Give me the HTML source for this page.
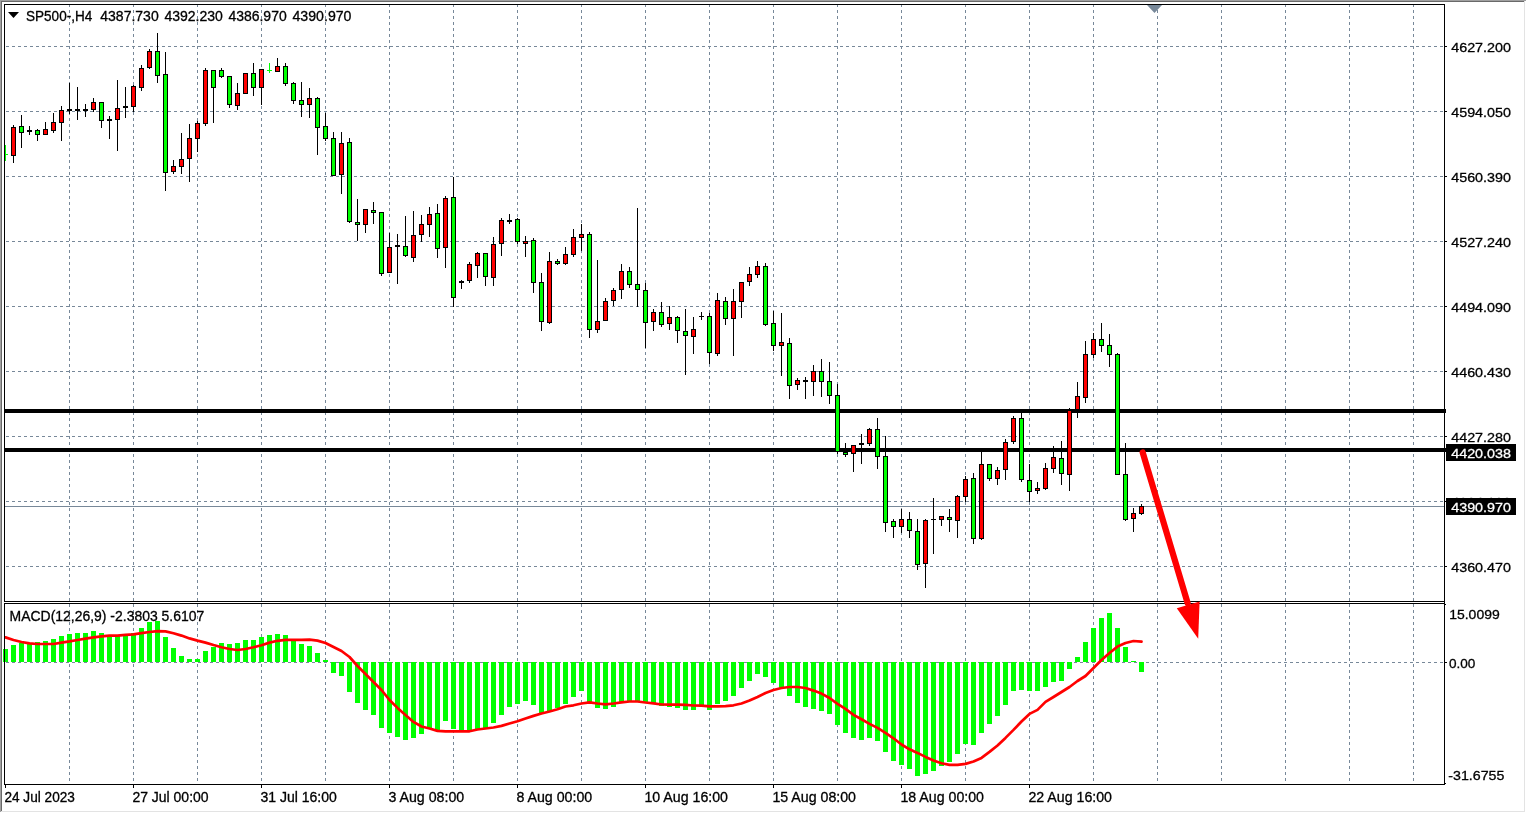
<!DOCTYPE html>
<html><head><meta charset="utf-8"><title>SP500-,H4</title>
<style>
html,body{margin:0;padding:0;background:#fff;overflow:hidden}
svg{display:block}
text{font-family:"Liberation Sans",sans-serif;font-size:14px;fill:#000;stroke:#000;stroke-width:.3px}
.p{font-size:13.6px}
.w{font-size:13.6px;fill:#fff;stroke:#fff}
</style></head><body>
<svg width="1526" height="813" viewBox="0 0 1526 813">
<rect width="1526" height="813" fill="#fff"/>
<g shape-rendering="crispEdges">
<rect x="0" y="0" width="1526" height="1" fill="#a0a0a0"/><rect x="0" y="0" width="1" height="812" fill="#a0a0a0"/>
<rect x="1" y="1" width="1524" height="1" fill="#696969"/><rect x="1" y="1" width="1" height="810" fill="#696969"/>
<rect x="1" y="811" width="1524" height="1" fill="#e3e3e3"/><rect x="1524" y="1" width="1" height="811" fill="#e3e3e3"/>
</g>
<g stroke="#778899" stroke-width="1" stroke-dasharray="3 3" shape-rendering="crispEdges" fill="none">
<line x1="69.5" y1="4" x2="69.5" y2="601"/>
<line x1="69.5" y1="604" x2="69.5" y2="782"/>
<line x1="133.5" y1="4" x2="133.5" y2="601"/>
<line x1="133.5" y1="604" x2="133.5" y2="782"/>
<line x1="197.5" y1="4" x2="197.5" y2="601"/>
<line x1="197.5" y1="604" x2="197.5" y2="782"/>
<line x1="261.5" y1="4" x2="261.5" y2="601"/>
<line x1="261.5" y1="604" x2="261.5" y2="782"/>
<line x1="325.5" y1="4" x2="325.5" y2="601"/>
<line x1="325.5" y1="604" x2="325.5" y2="782"/>
<line x1="389.5" y1="4" x2="389.5" y2="601"/>
<line x1="389.5" y1="604" x2="389.5" y2="782"/>
<line x1="453.5" y1="4" x2="453.5" y2="601"/>
<line x1="453.5" y1="604" x2="453.5" y2="782"/>
<line x1="517.5" y1="4" x2="517.5" y2="601"/>
<line x1="517.5" y1="604" x2="517.5" y2="782"/>
<line x1="581.5" y1="4" x2="581.5" y2="601"/>
<line x1="581.5" y1="604" x2="581.5" y2="782"/>
<line x1="645.5" y1="4" x2="645.5" y2="601"/>
<line x1="645.5" y1="604" x2="645.5" y2="782"/>
<line x1="709.5" y1="4" x2="709.5" y2="601"/>
<line x1="709.5" y1="604" x2="709.5" y2="782"/>
<line x1="773.5" y1="4" x2="773.5" y2="601"/>
<line x1="773.5" y1="604" x2="773.5" y2="782"/>
<line x1="837.5" y1="4" x2="837.5" y2="601"/>
<line x1="837.5" y1="604" x2="837.5" y2="782"/>
<line x1="901.5" y1="4" x2="901.5" y2="601"/>
<line x1="901.5" y1="604" x2="901.5" y2="782"/>
<line x1="965.5" y1="4" x2="965.5" y2="601"/>
<line x1="965.5" y1="604" x2="965.5" y2="782"/>
<line x1="1029.5" y1="4" x2="1029.5" y2="601"/>
<line x1="1029.5" y1="604" x2="1029.5" y2="782"/>
<line x1="1093.5" y1="4" x2="1093.5" y2="601"/>
<line x1="1093.5" y1="604" x2="1093.5" y2="782"/>
<line x1="1157.5" y1="4" x2="1157.5" y2="601"/>
<line x1="1157.5" y1="604" x2="1157.5" y2="782"/>
<line x1="1221.5" y1="4" x2="1221.5" y2="601"/>
<line x1="1221.5" y1="604" x2="1221.5" y2="782"/>
<line x1="1285.5" y1="4" x2="1285.5" y2="601"/>
<line x1="1285.5" y1="604" x2="1285.5" y2="782"/>
<line x1="1349.5" y1="4" x2="1349.5" y2="601"/>
<line x1="1349.5" y1="604" x2="1349.5" y2="782"/>
<line x1="1413.5" y1="4" x2="1413.5" y2="601"/>
<line x1="1413.5" y1="604" x2="1413.5" y2="782"/>
<line x1="6" y1="46.5" x2="1444" y2="46.5"/>
<line x1="6" y1="111.5" x2="1444" y2="111.5"/>
<line x1="6" y1="176.5" x2="1444" y2="176.5"/>
<line x1="6" y1="241.5" x2="1444" y2="241.5"/>
<line x1="6" y1="306.5" x2="1444" y2="306.5"/>
<line x1="6" y1="371.5" x2="1444" y2="371.5"/>
<line x1="6" y1="436.5" x2="1444" y2="436.5"/>
<line x1="6" y1="501.5" x2="1444" y2="501.5"/>
<line x1="6" y1="566.5" x2="1444" y2="566.5"/>
<line x1="6" y1="662.5" x2="1444" y2="662.5"/>
</g>
<g shape-rendering="crispEdges">
<rect x="5" y="409" width="1441" height="4" fill="#000"/>
<rect x="5" y="448" width="1441" height="4" fill="#000"/>
<rect x="5" y="506" width="1439" height="1" fill="#778899"/>
<path d="M1147 5H1162L1154.5 13Z" fill="#778899" shape-rendering="auto"/>
<rect x="5" y="145" width="1" height="16" fill="#0f0"/><rect x="5" y="154" width="3" height="1" fill="#0f0"/>
<rect x="13" y="125" width="1" height="38" fill="#000"/>
<rect x="11" y="127" width="5" height="29" fill="#000"/>
<rect x="12" y="128" width="3" height="27" fill="#f00"/>
<rect x="21" y="115" width="1" height="33" fill="#000"/>
<rect x="19" y="126" width="5" height="7" fill="#000"/>
<rect x="20" y="127" width="3" height="5" fill="#0f0"/>
<rect x="29" y="126" width="1" height="9" fill="#000"/>
<rect x="27" y="130" width="5" height="2" fill="#000"/>
<rect x="37" y="129" width="1" height="12" fill="#000"/>
<rect x="35" y="130" width="5" height="5" fill="#000"/>
<rect x="36" y="131" width="3" height="3" fill="#0f0"/>
<rect x="45" y="122" width="1" height="13" fill="#000"/>
<rect x="43" y="129" width="5" height="6" fill="#000"/>
<rect x="44" y="130" width="3" height="4" fill="#f00"/>
<rect x="53" y="113" width="1" height="20" fill="#000"/>
<rect x="51" y="122" width="5" height="9" fill="#000"/>
<rect x="52" y="123" width="3" height="7" fill="#f00"/>
<rect x="61" y="106" width="1" height="35" fill="#000"/>
<rect x="59" y="110" width="5" height="13" fill="#000"/>
<rect x="60" y="111" width="3" height="11" fill="#f00"/>
<rect x="69" y="83" width="1" height="31" fill="#000"/>
<rect x="67" y="109" width="5" height="2" fill="#000"/>
<rect x="77" y="87" width="1" height="33" fill="#000"/>
<rect x="75" y="109" width="5" height="2" fill="#000"/>
<rect x="85" y="104" width="1" height="13" fill="#000"/>
<rect x="83" y="109" width="5" height="2" fill="#000"/>
<rect x="93" y="98" width="1" height="14" fill="#000"/>
<rect x="91" y="102" width="5" height="8" fill="#000"/>
<rect x="92" y="103" width="3" height="6" fill="#f00"/>
<rect x="101" y="102" width="1" height="26" fill="#000"/>
<rect x="99" y="102" width="5" height="19" fill="#000"/>
<rect x="100" y="103" width="3" height="17" fill="#0f0"/>
<rect x="109" y="116" width="1" height="23" fill="#000"/>
<rect x="107" y="119" width="5" height="2" fill="#000"/>
<rect x="117" y="80" width="1" height="71" fill="#000"/>
<rect x="115" y="108" width="5" height="12" fill="#000"/>
<rect x="116" y="109" width="3" height="10" fill="#f00"/>
<rect x="125" y="87" width="1" height="31" fill="#000"/>
<rect x="123" y="106" width="5" height="2" fill="#000"/>
<rect x="133" y="85" width="1" height="27" fill="#000"/>
<rect x="131" y="86" width="5" height="21" fill="#000"/>
<rect x="132" y="87" width="3" height="19" fill="#f00"/>
<rect x="141" y="65" width="1" height="26" fill="#000"/>
<rect x="139" y="68" width="5" height="20" fill="#000"/>
<rect x="140" y="69" width="3" height="18" fill="#f00"/>
<rect x="149" y="49" width="1" height="20" fill="#000"/>
<rect x="147" y="51" width="5" height="17" fill="#000"/>
<rect x="148" y="52" width="3" height="15" fill="#f00"/>
<rect x="157" y="33" width="1" height="50" fill="#000"/>
<rect x="155" y="51" width="5" height="25" fill="#000"/>
<rect x="156" y="52" width="3" height="23" fill="#0f0"/>
<rect x="165" y="52" width="1" height="139" fill="#000"/>
<rect x="163" y="74" width="5" height="99" fill="#000"/>
<rect x="164" y="75" width="3" height="97" fill="#0f0"/>
<rect x="173" y="160" width="1" height="14" fill="#000"/>
<rect x="171" y="166" width="5" height="6" fill="#000"/>
<rect x="172" y="167" width="3" height="4" fill="#f00"/>
<rect x="181" y="133" width="1" height="41" fill="#000"/>
<rect x="179" y="159" width="5" height="8" fill="#000"/>
<rect x="180" y="160" width="3" height="6" fill="#f00"/>
<rect x="189" y="124" width="1" height="58" fill="#000"/>
<rect x="187" y="138" width="5" height="21" fill="#000"/>
<rect x="188" y="139" width="3" height="19" fill="#f00"/>
<rect x="197" y="121" width="1" height="31" fill="#000"/>
<rect x="195" y="123" width="5" height="16" fill="#000"/>
<rect x="196" y="124" width="3" height="14" fill="#f00"/>
<rect x="205" y="68" width="1" height="58" fill="#000"/>
<rect x="203" y="70" width="5" height="54" fill="#000"/>
<rect x="204" y="71" width="3" height="52" fill="#f00"/>
<rect x="213" y="70" width="1" height="53" fill="#000"/>
<rect x="211" y="70" width="5" height="18" fill="#000"/>
<rect x="212" y="71" width="3" height="16" fill="#0f0"/>
<rect x="221" y="68" width="1" height="10" fill="#000"/>
<rect x="219" y="70" width="5" height="7" fill="#000"/>
<rect x="220" y="71" width="3" height="5" fill="#0f0"/>
<rect x="229" y="76" width="1" height="32" fill="#000"/>
<rect x="227" y="76" width="5" height="29" fill="#000"/>
<rect x="228" y="77" width="3" height="27" fill="#0f0"/>
<rect x="237" y="83" width="1" height="27" fill="#000"/>
<rect x="235" y="93" width="5" height="13" fill="#000"/>
<rect x="236" y="94" width="3" height="11" fill="#f00"/>
<rect x="245" y="73" width="1" height="21" fill="#000"/>
<rect x="243" y="73" width="5" height="21" fill="#000"/>
<rect x="244" y="74" width="3" height="19" fill="#f00"/>
<rect x="253" y="63" width="1" height="33" fill="#000"/>
<rect x="251" y="73" width="5" height="15" fill="#000"/>
<rect x="252" y="74" width="3" height="13" fill="#0f0"/>
<rect x="261" y="69" width="1" height="36" fill="#000"/>
<rect x="259" y="69" width="5" height="19" fill="#000"/>
<rect x="260" y="70" width="3" height="17" fill="#f00"/>
<rect x="269" y="63" width="1" height="10" fill="#0f0"/>
<rect x="267" y="70" width="5" height="1" fill="#0f0"/>
<rect x="277" y="58" width="1" height="14" fill="#000"/>
<rect x="275" y="66" width="5" height="6" fill="#000"/>
<rect x="276" y="67" width="3" height="4" fill="#f00"/>
<rect x="285" y="63" width="1" height="23" fill="#000"/>
<rect x="283" y="66" width="5" height="18" fill="#000"/>
<rect x="284" y="67" width="3" height="16" fill="#0f0"/>
<rect x="293" y="82" width="1" height="22" fill="#000"/>
<rect x="291" y="83" width="5" height="18" fill="#000"/>
<rect x="292" y="84" width="3" height="16" fill="#0f0"/>
<rect x="301" y="82" width="1" height="35" fill="#000"/>
<rect x="299" y="100" width="5" height="5" fill="#000"/>
<rect x="300" y="101" width="3" height="3" fill="#0f0"/>
<rect x="309" y="88" width="1" height="30" fill="#000"/>
<rect x="307" y="98" width="5" height="7" fill="#000"/>
<rect x="308" y="99" width="3" height="5" fill="#f00"/>
<rect x="317" y="97" width="1" height="58" fill="#000"/>
<rect x="315" y="98" width="5" height="30" fill="#000"/>
<rect x="316" y="99" width="3" height="28" fill="#0f0"/>
<rect x="325" y="113" width="1" height="28" fill="#000"/>
<rect x="323" y="126" width="5" height="13" fill="#000"/>
<rect x="324" y="127" width="3" height="11" fill="#0f0"/>
<rect x="333" y="132" width="1" height="44" fill="#000"/>
<rect x="331" y="138" width="5" height="38" fill="#000"/>
<rect x="332" y="139" width="3" height="36" fill="#0f0"/>
<rect x="341" y="132" width="1" height="62" fill="#000"/>
<rect x="339" y="143" width="5" height="32" fill="#000"/>
<rect x="340" y="144" width="3" height="30" fill="#f00"/>
<rect x="349" y="138" width="1" height="85" fill="#000"/>
<rect x="347" y="142" width="5" height="80" fill="#000"/>
<rect x="348" y="143" width="3" height="78" fill="#0f0"/>
<rect x="357" y="199" width="1" height="42" fill="#000"/>
<rect x="355" y="222" width="5" height="3" fill="#000"/>
<rect x="356" y="223" width="3" height="1" fill="#0f0"/>
<rect x="365" y="209" width="1" height="24" fill="#000"/>
<rect x="363" y="209" width="5" height="16" fill="#000"/>
<rect x="364" y="210" width="3" height="14" fill="#f00"/>
<rect x="373" y="202" width="1" height="22" fill="#000"/>
<rect x="371" y="210" width="5" height="3" fill="#000"/>
<rect x="372" y="211" width="3" height="1" fill="#0f0"/>
<rect x="381" y="212" width="1" height="64" fill="#000"/>
<rect x="379" y="212" width="5" height="62" fill="#000"/>
<rect x="380" y="213" width="3" height="60" fill="#0f0"/>
<rect x="389" y="233" width="1" height="40" fill="#000"/>
<rect x="387" y="247" width="5" height="26" fill="#000"/>
<rect x="388" y="248" width="3" height="24" fill="#f00"/>
<rect x="397" y="234" width="1" height="50" fill="#000"/>
<rect x="395" y="245" width="5" height="2" fill="#000"/>
<rect x="405" y="216" width="1" height="41" fill="#000"/>
<rect x="403" y="246" width="5" height="10" fill="#000"/>
<rect x="404" y="247" width="3" height="8" fill="#0f0"/>
<rect x="413" y="211" width="1" height="51" fill="#000"/>
<rect x="411" y="235" width="5" height="23" fill="#000"/>
<rect x="412" y="236" width="3" height="21" fill="#f00"/>
<rect x="421" y="215" width="1" height="27" fill="#000"/>
<rect x="419" y="224" width="5" height="11" fill="#000"/>
<rect x="420" y="225" width="3" height="9" fill="#f00"/>
<rect x="429" y="207" width="1" height="30" fill="#000"/>
<rect x="427" y="214" width="5" height="11" fill="#000"/>
<rect x="428" y="215" width="3" height="9" fill="#f00"/>
<rect x="437" y="204" width="1" height="54" fill="#000"/>
<rect x="435" y="213" width="5" height="36" fill="#000"/>
<rect x="436" y="214" width="3" height="34" fill="#0f0"/>
<rect x="445" y="196" width="1" height="72" fill="#000"/>
<rect x="443" y="198" width="5" height="50" fill="#000"/>
<rect x="444" y="199" width="3" height="48" fill="#f00"/>
<rect x="453" y="177" width="1" height="130" fill="#000"/>
<rect x="451" y="197" width="5" height="101" fill="#000"/>
<rect x="452" y="198" width="3" height="99" fill="#0f0"/>
<rect x="461" y="280" width="1" height="9" fill="#000"/>
<rect x="459" y="281" width="5" height="2" fill="#000"/>
<rect x="469" y="262" width="1" height="21" fill="#000"/>
<rect x="467" y="264" width="5" height="17" fill="#000"/>
<rect x="468" y="265" width="3" height="15" fill="#f00"/>
<rect x="477" y="252" width="1" height="26" fill="#000"/>
<rect x="475" y="253" width="5" height="13" fill="#000"/>
<rect x="476" y="254" width="3" height="11" fill="#f00"/>
<rect x="485" y="253" width="1" height="33" fill="#000"/>
<rect x="483" y="253" width="5" height="24" fill="#000"/>
<rect x="484" y="254" width="3" height="22" fill="#0f0"/>
<rect x="493" y="237" width="1" height="49" fill="#000"/>
<rect x="491" y="244" width="5" height="34" fill="#000"/>
<rect x="492" y="245" width="3" height="32" fill="#f00"/>
<rect x="501" y="218" width="1" height="38" fill="#000"/>
<rect x="499" y="220" width="5" height="24" fill="#000"/>
<rect x="500" y="221" width="3" height="22" fill="#f00"/>
<rect x="509" y="214" width="1" height="10" fill="#000"/>
<rect x="507" y="220" width="5" height="2" fill="#000"/>
<rect x="517" y="218" width="1" height="26" fill="#000"/>
<rect x="515" y="219" width="5" height="23" fill="#000"/>
<rect x="516" y="220" width="3" height="21" fill="#0f0"/>
<rect x="525" y="236" width="1" height="21" fill="#000"/>
<rect x="523" y="241" width="5" height="3" fill="#000"/>
<rect x="524" y="242" width="3" height="1" fill="#f00"/>
<rect x="533" y="238" width="1" height="55" fill="#000"/>
<rect x="531" y="240" width="5" height="43" fill="#000"/>
<rect x="532" y="241" width="3" height="41" fill="#0f0"/>
<rect x="541" y="273" width="1" height="58" fill="#000"/>
<rect x="539" y="282" width="5" height="40" fill="#000"/>
<rect x="540" y="283" width="3" height="38" fill="#0f0"/>
<rect x="549" y="252" width="1" height="72" fill="#000"/>
<rect x="547" y="261" width="5" height="62" fill="#000"/>
<rect x="548" y="262" width="3" height="60" fill="#f00"/>
<rect x="557" y="259" width="1" height="6" fill="#000"/>
<rect x="555" y="261" width="5" height="3" fill="#000"/>
<rect x="556" y="262" width="3" height="1" fill="#0f0"/>
<rect x="565" y="247" width="1" height="18" fill="#000"/>
<rect x="563" y="254" width="5" height="10" fill="#000"/>
<rect x="564" y="255" width="3" height="8" fill="#f00"/>
<rect x="573" y="229" width="1" height="28" fill="#000"/>
<rect x="571" y="237" width="5" height="18" fill="#000"/>
<rect x="572" y="238" width="3" height="16" fill="#f00"/>
<rect x="581" y="224" width="1" height="27" fill="#000"/>
<rect x="579" y="234" width="5" height="4" fill="#000"/>
<rect x="580" y="235" width="3" height="2" fill="#f00"/>
<rect x="589" y="232" width="1" height="106" fill="#000"/>
<rect x="587" y="234" width="5" height="96" fill="#000"/>
<rect x="588" y="235" width="3" height="94" fill="#0f0"/>
<rect x="597" y="260" width="1" height="73" fill="#000"/>
<rect x="595" y="321" width="5" height="9" fill="#000"/>
<rect x="596" y="322" width="3" height="7" fill="#f00"/>
<rect x="605" y="298" width="1" height="23" fill="#000"/>
<rect x="603" y="301" width="5" height="20" fill="#000"/>
<rect x="604" y="302" width="3" height="18" fill="#f00"/>
<rect x="613" y="288" width="1" height="18" fill="#000"/>
<rect x="611" y="290" width="5" height="11" fill="#000"/>
<rect x="612" y="291" width="3" height="9" fill="#f00"/>
<rect x="621" y="264" width="1" height="35" fill="#000"/>
<rect x="619" y="271" width="5" height="19" fill="#000"/>
<rect x="620" y="272" width="3" height="17" fill="#f00"/>
<rect x="629" y="267" width="1" height="21" fill="#000"/>
<rect x="627" y="271" width="5" height="14" fill="#000"/>
<rect x="628" y="272" width="3" height="12" fill="#0f0"/>
<rect x="637" y="208" width="1" height="99" fill="#000"/>
<rect x="635" y="284" width="5" height="6" fill="#000"/>
<rect x="636" y="285" width="3" height="4" fill="#0f0"/>
<rect x="645" y="283" width="1" height="65" fill="#000"/>
<rect x="643" y="290" width="5" height="33" fill="#000"/>
<rect x="644" y="291" width="3" height="31" fill="#0f0"/>
<rect x="653" y="309" width="1" height="22" fill="#000"/>
<rect x="651" y="312" width="5" height="10" fill="#000"/>
<rect x="652" y="313" width="3" height="8" fill="#f00"/>
<rect x="661" y="302" width="1" height="25" fill="#000"/>
<rect x="659" y="312" width="5" height="13" fill="#000"/>
<rect x="660" y="313" width="3" height="11" fill="#0f0"/>
<rect x="669" y="306" width="1" height="24" fill="#000"/>
<rect x="667" y="317" width="5" height="7" fill="#000"/>
<rect x="668" y="318" width="3" height="5" fill="#f00"/>
<rect x="677" y="316" width="1" height="27" fill="#000"/>
<rect x="675" y="317" width="5" height="14" fill="#000"/>
<rect x="676" y="318" width="3" height="12" fill="#0f0"/>
<rect x="685" y="309" width="1" height="66" fill="#000"/>
<rect x="683" y="331" width="5" height="5" fill="#000"/>
<rect x="684" y="332" width="3" height="3" fill="#0f0"/>
<rect x="693" y="317" width="1" height="37" fill="#000"/>
<rect x="691" y="329" width="5" height="8" fill="#000"/>
<rect x="692" y="330" width="3" height="6" fill="#f00"/>
<rect x="701" y="312" width="1" height="8" fill="#000"/>
<rect x="699" y="316" width="5" height="1" fill="#000"/>
<rect x="709" y="313" width="1" height="51" fill="#000"/>
<rect x="707" y="316" width="5" height="37" fill="#000"/>
<rect x="708" y="317" width="3" height="35" fill="#0f0"/>
<rect x="717" y="293" width="1" height="63" fill="#000"/>
<rect x="715" y="300" width="5" height="54" fill="#000"/>
<rect x="716" y="301" width="3" height="52" fill="#f00"/>
<rect x="725" y="297" width="1" height="28" fill="#000"/>
<rect x="723" y="301" width="5" height="18" fill="#000"/>
<rect x="724" y="302" width="3" height="16" fill="#0f0"/>
<rect x="733" y="289" width="1" height="67" fill="#000"/>
<rect x="731" y="301" width="5" height="18" fill="#000"/>
<rect x="732" y="302" width="3" height="16" fill="#f00"/>
<rect x="741" y="282" width="1" height="36" fill="#000"/>
<rect x="739" y="282" width="5" height="20" fill="#000"/>
<rect x="740" y="283" width="3" height="18" fill="#f00"/>
<rect x="749" y="267" width="1" height="19" fill="#000"/>
<rect x="747" y="274" width="5" height="8" fill="#000"/>
<rect x="748" y="275" width="3" height="6" fill="#f00"/>
<rect x="757" y="261" width="1" height="17" fill="#000"/>
<rect x="755" y="266" width="5" height="9" fill="#000"/>
<rect x="756" y="267" width="3" height="7" fill="#f00"/>
<rect x="765" y="263" width="1" height="63" fill="#000"/>
<rect x="763" y="266" width="5" height="59" fill="#000"/>
<rect x="764" y="267" width="3" height="57" fill="#0f0"/>
<rect x="773" y="311" width="1" height="40" fill="#000"/>
<rect x="771" y="323" width="5" height="23" fill="#000"/>
<rect x="772" y="324" width="3" height="21" fill="#0f0"/>
<rect x="781" y="313" width="1" height="63" fill="#000"/>
<rect x="779" y="342" width="5" height="4" fill="#000"/>
<rect x="780" y="343" width="3" height="2" fill="#f00"/>
<rect x="789" y="338" width="1" height="61" fill="#000"/>
<rect x="787" y="343" width="5" height="43" fill="#000"/>
<rect x="788" y="344" width="3" height="41" fill="#0f0"/>
<rect x="797" y="378" width="1" height="12" fill="#000"/>
<rect x="795" y="380" width="5" height="5" fill="#000"/>
<rect x="796" y="381" width="3" height="3" fill="#f00"/>
<rect x="805" y="377" width="1" height="22" fill="#000"/>
<rect x="803" y="380" width="5" height="2" fill="#000"/>
<rect x="813" y="365" width="1" height="31" fill="#000"/>
<rect x="811" y="371" width="5" height="11" fill="#000"/>
<rect x="812" y="372" width="3" height="9" fill="#f00"/>
<rect x="821" y="359" width="1" height="38" fill="#000"/>
<rect x="819" y="371" width="5" height="11" fill="#000"/>
<rect x="820" y="372" width="3" height="9" fill="#0f0"/>
<rect x="829" y="362" width="1" height="42" fill="#000"/>
<rect x="827" y="381" width="5" height="15" fill="#000"/>
<rect x="828" y="382" width="3" height="13" fill="#0f0"/>
<rect x="837" y="384" width="1" height="70" fill="#000"/>
<rect x="835" y="395" width="5" height="57" fill="#000"/>
<rect x="836" y="396" width="3" height="55" fill="#0f0"/>
<rect x="845" y="443" width="1" height="14" fill="#000"/>
<rect x="843" y="452" width="5" height="3" fill="#000"/>
<rect x="844" y="453" width="3" height="1" fill="#0f0"/>
<rect x="853" y="445" width="1" height="27" fill="#000"/>
<rect x="851" y="445" width="5" height="9" fill="#000"/>
<rect x="852" y="446" width="3" height="7" fill="#f00"/>
<rect x="861" y="434" width="1" height="30" fill="#000"/>
<rect x="859" y="443" width="5" height="2" fill="#000"/>
<rect x="869" y="428" width="1" height="18" fill="#000"/>
<rect x="867" y="429" width="5" height="15" fill="#000"/>
<rect x="868" y="430" width="3" height="13" fill="#f00"/>
<rect x="877" y="418" width="1" height="51" fill="#000"/>
<rect x="875" y="429" width="5" height="28" fill="#000"/>
<rect x="876" y="430" width="3" height="26" fill="#0f0"/>
<rect x="885" y="436" width="1" height="96" fill="#000"/>
<rect x="883" y="456" width="5" height="67" fill="#000"/>
<rect x="884" y="457" width="3" height="65" fill="#0f0"/>
<rect x="893" y="519" width="1" height="19" fill="#000"/>
<rect x="891" y="521" width="5" height="6" fill="#000"/>
<rect x="892" y="522" width="3" height="4" fill="#0f0"/>
<rect x="901" y="509" width="1" height="24" fill="#000"/>
<rect x="899" y="519" width="5" height="8" fill="#000"/>
<rect x="900" y="520" width="3" height="6" fill="#f00"/>
<rect x="909" y="512" width="1" height="26" fill="#000"/>
<rect x="907" y="519" width="5" height="12" fill="#000"/>
<rect x="908" y="520" width="3" height="10" fill="#0f0"/>
<rect x="917" y="519" width="1" height="51" fill="#000"/>
<rect x="915" y="531" width="5" height="34" fill="#000"/>
<rect x="916" y="532" width="3" height="32" fill="#0f0"/>
<rect x="925" y="519" width="1" height="69" fill="#000"/>
<rect x="923" y="520" width="5" height="44" fill="#000"/>
<rect x="924" y="521" width="3" height="42" fill="#f00"/>
<rect x="933" y="498" width="1" height="56" fill="#000"/>
<rect x="931" y="519" width="5" height="1" fill="#000"/>
<rect x="941" y="516" width="1" height="10" fill="#000"/>
<rect x="939" y="516" width="5" height="4" fill="#000"/>
<rect x="940" y="517" width="3" height="2" fill="#f00"/>
<rect x="949" y="509" width="1" height="23" fill="#000"/>
<rect x="947" y="517" width="5" height="3" fill="#000"/>
<rect x="948" y="518" width="3" height="1" fill="#0f0"/>
<rect x="957" y="495" width="1" height="43" fill="#000"/>
<rect x="955" y="496" width="5" height="25" fill="#000"/>
<rect x="956" y="497" width="3" height="23" fill="#f00"/>
<rect x="965" y="476" width="1" height="26" fill="#000"/>
<rect x="963" y="479" width="5" height="18" fill="#000"/>
<rect x="964" y="480" width="3" height="16" fill="#f00"/>
<rect x="973" y="473" width="1" height="71" fill="#000"/>
<rect x="971" y="478" width="5" height="61" fill="#000"/>
<rect x="972" y="479" width="3" height="59" fill="#0f0"/>
<rect x="981" y="452" width="1" height="88" fill="#000"/>
<rect x="979" y="464" width="5" height="75" fill="#000"/>
<rect x="980" y="465" width="3" height="73" fill="#f00"/>
<rect x="989" y="464" width="1" height="17" fill="#000"/>
<rect x="987" y="464" width="5" height="15" fill="#000"/>
<rect x="988" y="465" width="3" height="13" fill="#0f0"/>
<rect x="997" y="467" width="1" height="18" fill="#000"/>
<rect x="995" y="470" width="5" height="9" fill="#000"/>
<rect x="996" y="471" width="3" height="7" fill="#f00"/>
<rect x="1005" y="439" width="1" height="41" fill="#000"/>
<rect x="1003" y="442" width="5" height="28" fill="#000"/>
<rect x="1004" y="443" width="3" height="26" fill="#f00"/>
<rect x="1013" y="416" width="1" height="28" fill="#000"/>
<rect x="1011" y="418" width="5" height="24" fill="#000"/>
<rect x="1012" y="419" width="3" height="22" fill="#f00"/>
<rect x="1021" y="413" width="1" height="69" fill="#000"/>
<rect x="1019" y="418" width="5" height="62" fill="#000"/>
<rect x="1020" y="419" width="3" height="60" fill="#0f0"/>
<rect x="1029" y="464" width="1" height="38" fill="#000"/>
<rect x="1027" y="480" width="5" height="12" fill="#000"/>
<rect x="1028" y="481" width="3" height="10" fill="#0f0"/>
<rect x="1037" y="482" width="1" height="12" fill="#000"/>
<rect x="1035" y="488" width="5" height="3" fill="#000"/>
<rect x="1036" y="489" width="3" height="1" fill="#f00"/>
<rect x="1045" y="463" width="1" height="27" fill="#000"/>
<rect x="1043" y="468" width="5" height="21" fill="#000"/>
<rect x="1044" y="469" width="3" height="19" fill="#f00"/>
<rect x="1053" y="446" width="1" height="27" fill="#000"/>
<rect x="1051" y="457" width="5" height="12" fill="#000"/>
<rect x="1052" y="458" width="3" height="10" fill="#f00"/>
<rect x="1061" y="441" width="1" height="44" fill="#000"/>
<rect x="1059" y="458" width="5" height="16" fill="#000"/>
<rect x="1060" y="459" width="3" height="14" fill="#0f0"/>
<rect x="1069" y="408" width="1" height="83" fill="#000"/>
<rect x="1067" y="410" width="5" height="65" fill="#000"/>
<rect x="1068" y="411" width="3" height="63" fill="#f00"/>
<rect x="1077" y="382" width="1" height="36" fill="#000"/>
<rect x="1075" y="396" width="5" height="14" fill="#000"/>
<rect x="1076" y="397" width="3" height="12" fill="#f00"/>
<rect x="1085" y="341" width="1" height="62" fill="#000"/>
<rect x="1083" y="354" width="5" height="44" fill="#000"/>
<rect x="1084" y="355" width="3" height="42" fill="#f00"/>
<rect x="1093" y="333" width="1" height="25" fill="#000"/>
<rect x="1091" y="339" width="5" height="16" fill="#000"/>
<rect x="1092" y="340" width="3" height="14" fill="#f00"/>
<rect x="1101" y="323" width="1" height="29" fill="#000"/>
<rect x="1099" y="339" width="5" height="7" fill="#000"/>
<rect x="1100" y="340" width="3" height="5" fill="#0f0"/>
<rect x="1109" y="334" width="1" height="33" fill="#000"/>
<rect x="1107" y="345" width="5" height="10" fill="#000"/>
<rect x="1108" y="346" width="3" height="8" fill="#0f0"/>
<rect x="1117" y="353" width="1" height="122" fill="#000"/>
<rect x="1115" y="354" width="5" height="121" fill="#000"/>
<rect x="1116" y="355" width="3" height="119" fill="#0f0"/>
<rect x="1125" y="443" width="1" height="78" fill="#000"/>
<rect x="1123" y="474" width="5" height="46" fill="#000"/>
<rect x="1124" y="475" width="3" height="44" fill="#0f0"/>
<rect x="1133" y="508" width="1" height="24" fill="#000"/>
<rect x="1131" y="513" width="5" height="6" fill="#000"/>
<rect x="1132" y="514" width="3" height="4" fill="#f00"/>
<rect x="1141" y="504" width="1" height="11" fill="#000"/>
<rect x="1139" y="506" width="5" height="8" fill="#000"/>
<rect x="1140" y="507" width="3" height="6" fill="#f00"/>
<rect x="3" y="649" width="5" height="13" fill="#0f0"/>
<rect x="11" y="645" width="5" height="17" fill="#0f0"/>
<rect x="19" y="643" width="5" height="19" fill="#0f0"/>
<rect x="27" y="644" width="5" height="18" fill="#0f0"/>
<rect x="35" y="642" width="5" height="20" fill="#0f0"/>
<rect x="43" y="641" width="5" height="21" fill="#0f0"/>
<rect x="51" y="639" width="5" height="23" fill="#0f0"/>
<rect x="59" y="636" width="5" height="26" fill="#0f0"/>
<rect x="67" y="634" width="5" height="28" fill="#0f0"/>
<rect x="75" y="633" width="5" height="29" fill="#0f0"/>
<rect x="83" y="633" width="5" height="29" fill="#0f0"/>
<rect x="91" y="631" width="5" height="31" fill="#0f0"/>
<rect x="99" y="633" width="5" height="29" fill="#0f0"/>
<rect x="107" y="635" width="5" height="27" fill="#0f0"/>
<rect x="115" y="635" width="5" height="27" fill="#0f0"/>
<rect x="123" y="634" width="5" height="28" fill="#0f0"/>
<rect x="131" y="633" width="5" height="29" fill="#0f0"/>
<rect x="139" y="628" width="5" height="34" fill="#0f0"/>
<rect x="147" y="622" width="5" height="40" fill="#0f0"/>
<rect x="155" y="621" width="5" height="41" fill="#0f0"/>
<rect x="163" y="637" width="5" height="25" fill="#0f0"/>
<rect x="171" y="648" width="5" height="14" fill="#0f0"/>
<rect x="179" y="656" width="5" height="6" fill="#0f0"/>
<rect x="187" y="659" width="5" height="3" fill="#0f0"/>
<rect x="195" y="659" width="5" height="3" fill="#0f0"/>
<rect x="203" y="651" width="5" height="11" fill="#0f0"/>
<rect x="211" y="647" width="5" height="15" fill="#0f0"/>
<rect x="219" y="643" width="5" height="19" fill="#0f0"/>
<rect x="227" y="644" width="5" height="18" fill="#0f0"/>
<rect x="235" y="643" width="5" height="19" fill="#0f0"/>
<rect x="243" y="640" width="5" height="22" fill="#0f0"/>
<rect x="251" y="640" width="5" height="22" fill="#0f0"/>
<rect x="259" y="637" width="5" height="25" fill="#0f0"/>
<rect x="267" y="635" width="5" height="27" fill="#0f0"/>
<rect x="275" y="634" width="5" height="28" fill="#0f0"/>
<rect x="283" y="635" width="5" height="27" fill="#0f0"/>
<rect x="291" y="639" width="5" height="23" fill="#0f0"/>
<rect x="299" y="644" width="5" height="18" fill="#0f0"/>
<rect x="307" y="646" width="5" height="16" fill="#0f0"/>
<rect x="315" y="653" width="5" height="9" fill="#0f0"/>
<rect x="323" y="660" width="5" height="2" fill="#0f0"/>
<rect x="331" y="662" width="5" height="11" fill="#0f0"/>
<rect x="339" y="662" width="5" height="14" fill="#0f0"/>
<rect x="347" y="662" width="5" height="30" fill="#0f0"/>
<rect x="355" y="662" width="5" height="41" fill="#0f0"/>
<rect x="363" y="662" width="5" height="48" fill="#0f0"/>
<rect x="371" y="662" width="5" height="53" fill="#0f0"/>
<rect x="379" y="662" width="5" height="66" fill="#0f0"/>
<rect x="387" y="662" width="5" height="71" fill="#0f0"/>
<rect x="395" y="662" width="5" height="75" fill="#0f0"/>
<rect x="403" y="662" width="5" height="78" fill="#0f0"/>
<rect x="411" y="662" width="5" height="76" fill="#0f0"/>
<rect x="419" y="662" width="5" height="72" fill="#0f0"/>
<rect x="427" y="662" width="5" height="67" fill="#0f0"/>
<rect x="435" y="662" width="5" height="68" fill="#0f0"/>
<rect x="443" y="662" width="5" height="59" fill="#0f0"/>
<rect x="451" y="662" width="5" height="67" fill="#0f0"/>
<rect x="459" y="662" width="5" height="69" fill="#0f0"/>
<rect x="467" y="662" width="5" height="69" fill="#0f0"/>
<rect x="475" y="662" width="5" height="67" fill="#0f0"/>
<rect x="483" y="662" width="5" height="66" fill="#0f0"/>
<rect x="491" y="662" width="5" height="61" fill="#0f0"/>
<rect x="499" y="662" width="5" height="53" fill="#0f0"/>
<rect x="507" y="662" width="5" height="45" fill="#0f0"/>
<rect x="515" y="662" width="5" height="42" fill="#0f0"/>
<rect x="523" y="662" width="5" height="39" fill="#0f0"/>
<rect x="531" y="662" width="5" height="43" fill="#0f0"/>
<rect x="539" y="662" width="5" height="51" fill="#0f0"/>
<rect x="547" y="662" width="5" height="49" fill="#0f0"/>
<rect x="555" y="662" width="5" height="46" fill="#0f0"/>
<rect x="563" y="662" width="5" height="42" fill="#0f0"/>
<rect x="571" y="662" width="5" height="35" fill="#0f0"/>
<rect x="579" y="662" width="5" height="29" fill="#0f0"/>
<rect x="587" y="662" width="5" height="40" fill="#0f0"/>
<rect x="595" y="662" width="5" height="46" fill="#0f0"/>
<rect x="603" y="662" width="5" height="47" fill="#0f0"/>
<rect x="611" y="662" width="5" height="45" fill="#0f0"/>
<rect x="619" y="662" width="5" height="41" fill="#0f0"/>
<rect x="627" y="662" width="5" height="40" fill="#0f0"/>
<rect x="635" y="662" width="5" height="40" fill="#0f0"/>
<rect x="643" y="662" width="5" height="41" fill="#0f0"/>
<rect x="651" y="662" width="5" height="42" fill="#0f0"/>
<rect x="659" y="662" width="5" height="44" fill="#0f0"/>
<rect x="667" y="662" width="5" height="45" fill="#0f0"/>
<rect x="675" y="662" width="5" height="46" fill="#0f0"/>
<rect x="683" y="662" width="5" height="48" fill="#0f0"/>
<rect x="691" y="662" width="5" height="48" fill="#0f0"/>
<rect x="699" y="662" width="5" height="45" fill="#0f0"/>
<rect x="707" y="662" width="5" height="48" fill="#0f0"/>
<rect x="715" y="662" width="5" height="42" fill="#0f0"/>
<rect x="723" y="662" width="5" height="39" fill="#0f0"/>
<rect x="731" y="662" width="5" height="34" fill="#0f0"/>
<rect x="739" y="662" width="5" height="26" fill="#0f0"/>
<rect x="747" y="662" width="5" height="19" fill="#0f0"/>
<rect x="755" y="662" width="5" height="12" fill="#0f0"/>
<rect x="763" y="662" width="5" height="15" fill="#0f0"/>
<rect x="771" y="662" width="5" height="21" fill="#0f0"/>
<rect x="779" y="662" width="5" height="26" fill="#0f0"/>
<rect x="787" y="662" width="5" height="34" fill="#0f0"/>
<rect x="795" y="662" width="5" height="41" fill="#0f0"/>
<rect x="803" y="662" width="5" height="45" fill="#0f0"/>
<rect x="811" y="662" width="5" height="47" fill="#0f0"/>
<rect x="819" y="662" width="5" height="49" fill="#0f0"/>
<rect x="827" y="662" width="5" height="52" fill="#0f0"/>
<rect x="835" y="662" width="5" height="63" fill="#0f0"/>
<rect x="843" y="662" width="5" height="71" fill="#0f0"/>
<rect x="851" y="662" width="5" height="76" fill="#0f0"/>
<rect x="859" y="662" width="5" height="78" fill="#0f0"/>
<rect x="867" y="662" width="5" height="76" fill="#0f0"/>
<rect x="875" y="662" width="5" height="79" fill="#0f0"/>
<rect x="883" y="662" width="5" height="90" fill="#0f0"/>
<rect x="891" y="662" width="5" height="99" fill="#0f0"/>
<rect x="899" y="662" width="5" height="103" fill="#0f0"/>
<rect x="907" y="662" width="5" height="107" fill="#0f0"/>
<rect x="915" y="662" width="5" height="114" fill="#0f0"/>
<rect x="923" y="662" width="5" height="112" fill="#0f0"/>
<rect x="931" y="662" width="5" height="109" fill="#0f0"/>
<rect x="939" y="662" width="5" height="104" fill="#0f0"/>
<rect x="947" y="662" width="5" height="100" fill="#0f0"/>
<rect x="955" y="662" width="5" height="92" fill="#0f0"/>
<rect x="963" y="662" width="5" height="82" fill="#0f0"/>
<rect x="971" y="662" width="5" height="83" fill="#0f0"/>
<rect x="979" y="662" width="5" height="71" fill="#0f0"/>
<rect x="987" y="662" width="5" height="62" fill="#0f0"/>
<rect x="995" y="662" width="5" height="54" fill="#0f0"/>
<rect x="1003" y="662" width="5" height="43" fill="#0f0"/>
<rect x="1011" y="662" width="5" height="29" fill="#0f0"/>
<rect x="1019" y="662" width="5" height="28" fill="#0f0"/>
<rect x="1027" y="662" width="5" height="29" fill="#0f0"/>
<rect x="1035" y="662" width="5" height="29" fill="#0f0"/>
<rect x="1043" y="662" width="5" height="25" fill="#0f0"/>
<rect x="1051" y="662" width="5" height="20" fill="#0f0"/>
<rect x="1059" y="662" width="5" height="19" fill="#0f0"/>
<rect x="1067" y="662" width="5" height="7" fill="#0f0"/>
<rect x="1075" y="657" width="5" height="5" fill="#0f0"/>
<rect x="1083" y="642" width="5" height="20" fill="#0f0"/>
<rect x="1091" y="628" width="5" height="34" fill="#0f0"/>
<rect x="1099" y="618" width="5" height="44" fill="#0f0"/>
<rect x="1107" y="613" width="5" height="49" fill="#0f0"/>
<rect x="1115" y="628" width="5" height="34" fill="#0f0"/>
<rect x="1123" y="647" width="5" height="15" fill="#0f0"/>
<rect x="1131" y="661" width="5" height="1" fill="#0f0"/>
<rect x="1139" y="662" width="5" height="10" fill="#0f0"/>
</g>
<polyline points="5.5,637.4 13.5,640.0 21.5,642.0 29.5,643.4 37.5,644.0 45.5,644.0 53.5,644.0 61.5,642.6 69.5,641.4 77.5,640.0 85.5,638.6 93.5,637.4 101.5,636.4 109.5,635.6 117.5,635.6 125.5,634.8 133.5,634.4 141.5,633.2 149.5,632.0 157.5,631.2 165.5,631.4 173.5,633.2 181.5,635.6 189.5,638.4 197.5,640.6 205.5,642.6 213.5,645.0 221.5,647.2 229.5,649.0 237.5,650.0 245.5,649.0 253.5,647.2 261.5,645.2 269.5,642.6 277.5,640.8 285.5,639.8 293.5,639.8 301.5,639.8 309.5,639.6 317.5,640.6 325.5,643.0 333.5,647.0 341.5,651.0 349.5,657.0 357.5,666.0 365.5,674.0 373.5,682.0 381.5,690.0 389.5,700.0 397.5,707.9 405.5,714.9 413.5,721.9 421.5,726.5 429.5,728.5 437.5,730.9 445.5,731.3 453.5,731.3 461.5,731.3 469.5,731.3 477.5,729.5 485.5,728.5 493.5,727.5 501.5,725.9 509.5,723.5 517.5,721.3 525.5,718.5 533.5,715.9 541.5,713.5 549.5,711.5 557.5,709.3 565.5,706.5 573.5,705.3 581.5,703.5 589.5,702.3 597.5,703.5 605.5,704.3 613.5,703.5 621.5,702.3 629.5,701.5 637.5,701.5 645.5,702.5 653.5,703.3 661.5,704.5 669.5,704.7 677.5,704.7 685.5,704.9 693.5,705.5 701.5,705.7 709.5,706.3 717.5,706.3 725.5,706.1 733.5,705.3 741.5,703.5 749.5,700.6 757.5,697.0 765.5,693.0 773.5,690.0 781.5,688.0 789.5,687.0 797.5,687.0 805.5,688.0 813.5,690.6 821.5,693.6 829.5,698.0 837.5,703.9 845.5,708.9 853.5,714.9 861.5,719.3 869.5,723.9 877.5,727.9 885.5,732.9 893.5,738.3 901.5,744.5 909.5,749.3 917.5,752.9 925.5,756.9 933.5,760.5 941.5,763.3 949.5,764.9 957.5,764.9 965.5,763.9 973.5,761.5 981.5,757.9 989.5,751.9 997.5,745.5 1005.5,737.9 1013.5,729.9 1021.5,721.5 1029.5,713.9 1037.5,709.9 1045.5,701.9 1053.5,697.0 1061.5,692.0 1069.5,687.0 1077.5,681.0 1085.5,676.0 1093.5,668.0 1101.5,660.0 1109.5,653.0 1117.5,646.6 1125.5,643.0 1133.5,641.0 1141.5,641.6" fill="none" stroke="#f00" stroke-width="2.7" stroke-linejoin="round" stroke-linecap="round"/>
<g shape-rendering="crispEdges" fill="#000">
<rect x="4" y="4" width="1441" height="1"/><rect x="4" y="601" width="1441" height="1"/>
<rect x="4" y="603" width="1441" height="1"/><rect x="4" y="784" width="1441" height="1"/>
<rect x="4" y="4" width="1" height="598"/><rect x="4" y="603" width="1" height="182"/>
<rect x="1444" y="4" width="1" height="781"/>
<rect x="1445" y="46" width="2" height="1"/>
<rect x="1445" y="111" width="2" height="1"/>
<rect x="1445" y="176" width="2" height="1"/>
<rect x="1445" y="241" width="2" height="1"/>
<rect x="1445" y="306" width="2" height="1"/>
<rect x="1445" y="371" width="2" height="1"/>
<rect x="1445" y="436" width="2" height="1"/>
<rect x="1445" y="501" width="2" height="1"/>
<rect x="1445" y="566" width="2" height="1"/>
<rect x="1445" y="662" width="2" height="1"/>
<rect x="1445" y="604" width="1" height="1"/><rect x="1445" y="783" width="1" height="1"/>
<rect x="5" y="785" width="1" height="3"/>
<rect x="133" y="785" width="1" height="3"/>
<rect x="261" y="785" width="1" height="3"/>
<rect x="389" y="785" width="1" height="3"/>
<rect x="517" y="785" width="1" height="3"/>
<rect x="645" y="785" width="1" height="3"/>
<rect x="773" y="785" width="1" height="3"/>
<rect x="901" y="785" width="1" height="3"/>
<rect x="1029" y="785" width="1" height="3"/>
</g>
<path d="M8 12H19L13.5 18Z" fill="#000"/>
<text x="26" y="21" textLength="66.3" lengthAdjust="spacingAndGlyphs">SP500-,H4</text>
<text x="100.3" y="21" textLength="58.4" lengthAdjust="spacingAndGlyphs">4387.730</text>
<text x="164.4" y="21" textLength="58.5" lengthAdjust="spacingAndGlyphs">4392.230</text>
<text x="228.4" y="21" textLength="58.3" lengthAdjust="spacingAndGlyphs">4386.970</text>
<text x="292.5" y="21" textLength="59" lengthAdjust="spacingAndGlyphs">4390.970</text>
<text x="9.6" y="621" textLength="194.6" lengthAdjust="spacingAndGlyphs">MACD(12,26,9) -2.3803 5.6107</text>
<text x="1451.2" y="52" textLength="59.8" lengthAdjust="spacingAndGlyphs" class="p">4627.200</text>
<text x="1451.2" y="117" textLength="59.8" lengthAdjust="spacingAndGlyphs" class="p">4594.050</text>
<text x="1451.2" y="182" textLength="59.8" lengthAdjust="spacingAndGlyphs" class="p">4560.390</text>
<text x="1451.2" y="247" textLength="59.8" lengthAdjust="spacingAndGlyphs" class="p">4527.240</text>
<text x="1451.2" y="312" textLength="59.8" lengthAdjust="spacingAndGlyphs" class="p">4494.090</text>
<text x="1451.2" y="377" textLength="59.8" lengthAdjust="spacingAndGlyphs" class="p">4460.430</text>
<text x="1451.2" y="442" textLength="59.8" lengthAdjust="spacingAndGlyphs" class="p">4427.280</text>
<text x="1451.2" y="507" textLength="59.8" lengthAdjust="spacingAndGlyphs" class="p">4394.130</text>
<text x="1451.2" y="572" textLength="59.8" lengthAdjust="spacingAndGlyphs" class="p">4360.470</text>
<text x="1449.2" y="619" textLength="50.5" lengthAdjust="spacingAndGlyphs" class="p">15.0099</text>
<text x="1449" y="668" textLength="26.4" lengthAdjust="spacingAndGlyphs" class="p">0.00</text>
<text x="1448.3" y="780" textLength="56.1" lengthAdjust="spacingAndGlyphs" class="p">-31.6755</text>
<rect x="1446" y="444" width="70" height="17" fill="#000" shape-rendering="crispEdges"/>
<text x="1451.2" y="458" textLength="59.8" lengthAdjust="spacingAndGlyphs" class="w">4420.038</text>
<rect x="1446" y="498" width="70" height="17" fill="#000" shape-rendering="crispEdges"/>
<text x="1451.2" y="512" textLength="59.8" lengthAdjust="spacingAndGlyphs" class="w">4390.970</text>
<text x="4.4" y="802" textLength="70.5" lengthAdjust="spacingAndGlyphs">24 Jul 2023</text>
<text x="132.4" y="802" textLength="76.2" lengthAdjust="spacingAndGlyphs">27 Jul 00:00</text>
<text x="260.4" y="802" textLength="76.4" lengthAdjust="spacingAndGlyphs">31 Jul 16:00</text>
<text x="388.4" y="802" textLength="75.8" lengthAdjust="spacingAndGlyphs">3 Aug 08:00</text>
<text x="516.4" y="802" textLength="75.9" lengthAdjust="spacingAndGlyphs">8 Aug 00:00</text>
<text x="644.4" y="802" textLength="83.6" lengthAdjust="spacingAndGlyphs">10 Aug 16:00</text>
<text x="772.4" y="802" textLength="83.6" lengthAdjust="spacingAndGlyphs">15 Aug 08:00</text>
<text x="900.4" y="802" textLength="83.6" lengthAdjust="spacingAndGlyphs">18 Aug 00:00</text>
<text x="1028.4" y="802" textLength="83.6" lengthAdjust="spacingAndGlyphs">22 Aug 16:00</text>
<line x1="1142.7" y1="452.5" x2="1187.6" y2="603" stroke="#f00" stroke-width="6.2" stroke-linecap="round"/>
<path d="M1176.8 608.3L1199.6 601.6L1198.2 638.8Z" fill="#f00"/>
</svg></body></html>
